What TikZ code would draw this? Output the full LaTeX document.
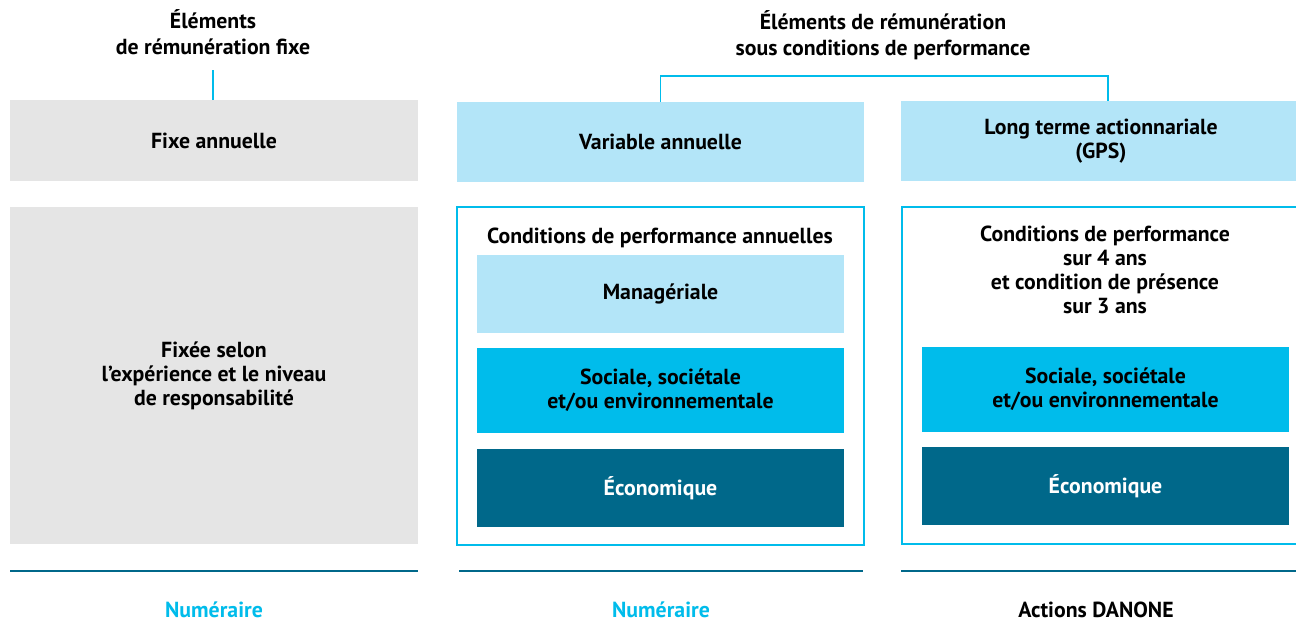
\documentclass[tikz,border=0pt]{standalone}
\usepackage{fontspec}
\setmainfont{PT Sans}
\usepackage{tikz}
\usetikzlibrary{positioning}
\definecolor{greybox}{HTML}{E5E5E5}
\definecolor{paleblue}{HTML}{B3E5F8}
\definecolor{skyblue}{HTML}{00BCEB}
\definecolor{deepteal}{HTML}{00688A}
\begin{document}
\begin{tikzpicture}[
			x=0.02cm, y=-0.02cm,
			every node/.style={
					font=\fontsize{12.4}{13.6}\selectfont\bfseries,
					align=center,
					inner sep=0pt,
					outer sep=0pt
				},
			cell/.style={draw=none, minimum width=#1},
			tick/.style={draw=skyblue, line width=1.1pt},
			baseline rule/.style={draw=deepteal, line width=1.3pt}
		]
		\clip (0, 0) rectangle (1296, 643);
		\fill[white] (0, 0) rectangle (1296, 643);

		% headers
		\node[font=\fontsize{12.4}{14.6}\selectfont\bfseries] (fixhead) at (213, 32) {Éléments\\de rémunération fixe};
		\node[font=\fontsize{12.4}{14.6}\selectfont\bfseries] (perfhead) at (883, 35) {Éléments de rémunération\\sous conditions de performance};

		% top row
		\node[cell=8.16cm, minimum height=1.62cm, fill=greybox] (fixbox) at (214, 140.5) {Fixe annuelle};
		\node[cell=8.14cm, minimum height=1.60cm, fill=paleblue] (varbox) at (660.5, 142) {Variable annuelle};
		\node[cell=8.00cm, minimum height=1.60cm, fill=paleblue] (ltbox) at (1101, 141) {Long terme actionnariale\\(GPS)};

		\coordinate (fixtick) at (213, 70);
		\coordinate (brk) at (883, 76);
		\coordinate (ltknot) at (1108, 101);
		\draw[tick] (fixbox.north -| fixtick) -- (fixtick);
		\draw[tick] (varbox.north) |- (brk) -| (ltknot);

		% second row
		\node[cell=8.16cm, minimum height=6.74cm, fill=greybox] (fixdesc) at (214, 375.5)
			{Fixée selon\\l’expérience et le niveau\\de responsabilité};
		\node[cell=8.14cm, minimum height=6.76cm, draw=skyblue, line width=0.9pt] (varcond) at (660.5, 376) {};
		\node[cell=8.16cm, minimum height=6.74cm, draw=skyblue, line width=0.9pt] (ltcond) at (1106, 375.5) {};

		\node (vartitle) at (660, 238) {Conditions de performance annuelles};
		\node[cell=7.34cm, minimum height=1.56cm, fill=paleblue] (varmana) at (660.5, 294) {Managériale};
		\node[cell=7.34cm, minimum height=1.70cm, fill=skyblue] (varsoc) at (660.5, 390.5) {Sociale, sociétale\\et/ou environnementale};
		\node[cell=7.34cm, minimum height=1.56cm, fill=deepteal, text=white] (vareco) at (660.5, 488) {Économique};

		\node (lttitle) at (1105, 270) {Conditions de performance\\sur 4 ans\\et condition de présence\\sur 3 ans};
		\node[cell=7.34cm, minimum height=1.70cm, fill=skyblue] (ltsoc) at (1105.5, 389.5) {Sociale, sociétale\\et/ou environnementale};
		\node[cell=7.34cm, minimum height=1.56cm, fill=deepteal, text=white] (lteco) at (1105.5, 486) {Économique};

		% payment form
		\coordinate (fixrule) at (214, 571);
		\coordinate (varrule) at (661, 571);
		\coordinate (ltrule) at (1096, 571);
		\draw[baseline rule] (10, 571) -- (418, 571);
		\draw[baseline rule] (459, 571) -- (863, 571);
		\draw[baseline rule] (901, 571) -- (1296, 571);

		\node[text=skyblue, below=0.62cm of fixrule] (fixpay) {Numéraire};
		\node[text=skyblue, below=0.62cm of varrule] (varpay) {Numéraire};
		\node[below=0.62cm of ltrule] (ltpay) {Actions DANONE};
\end{tikzpicture}
\end{document}
